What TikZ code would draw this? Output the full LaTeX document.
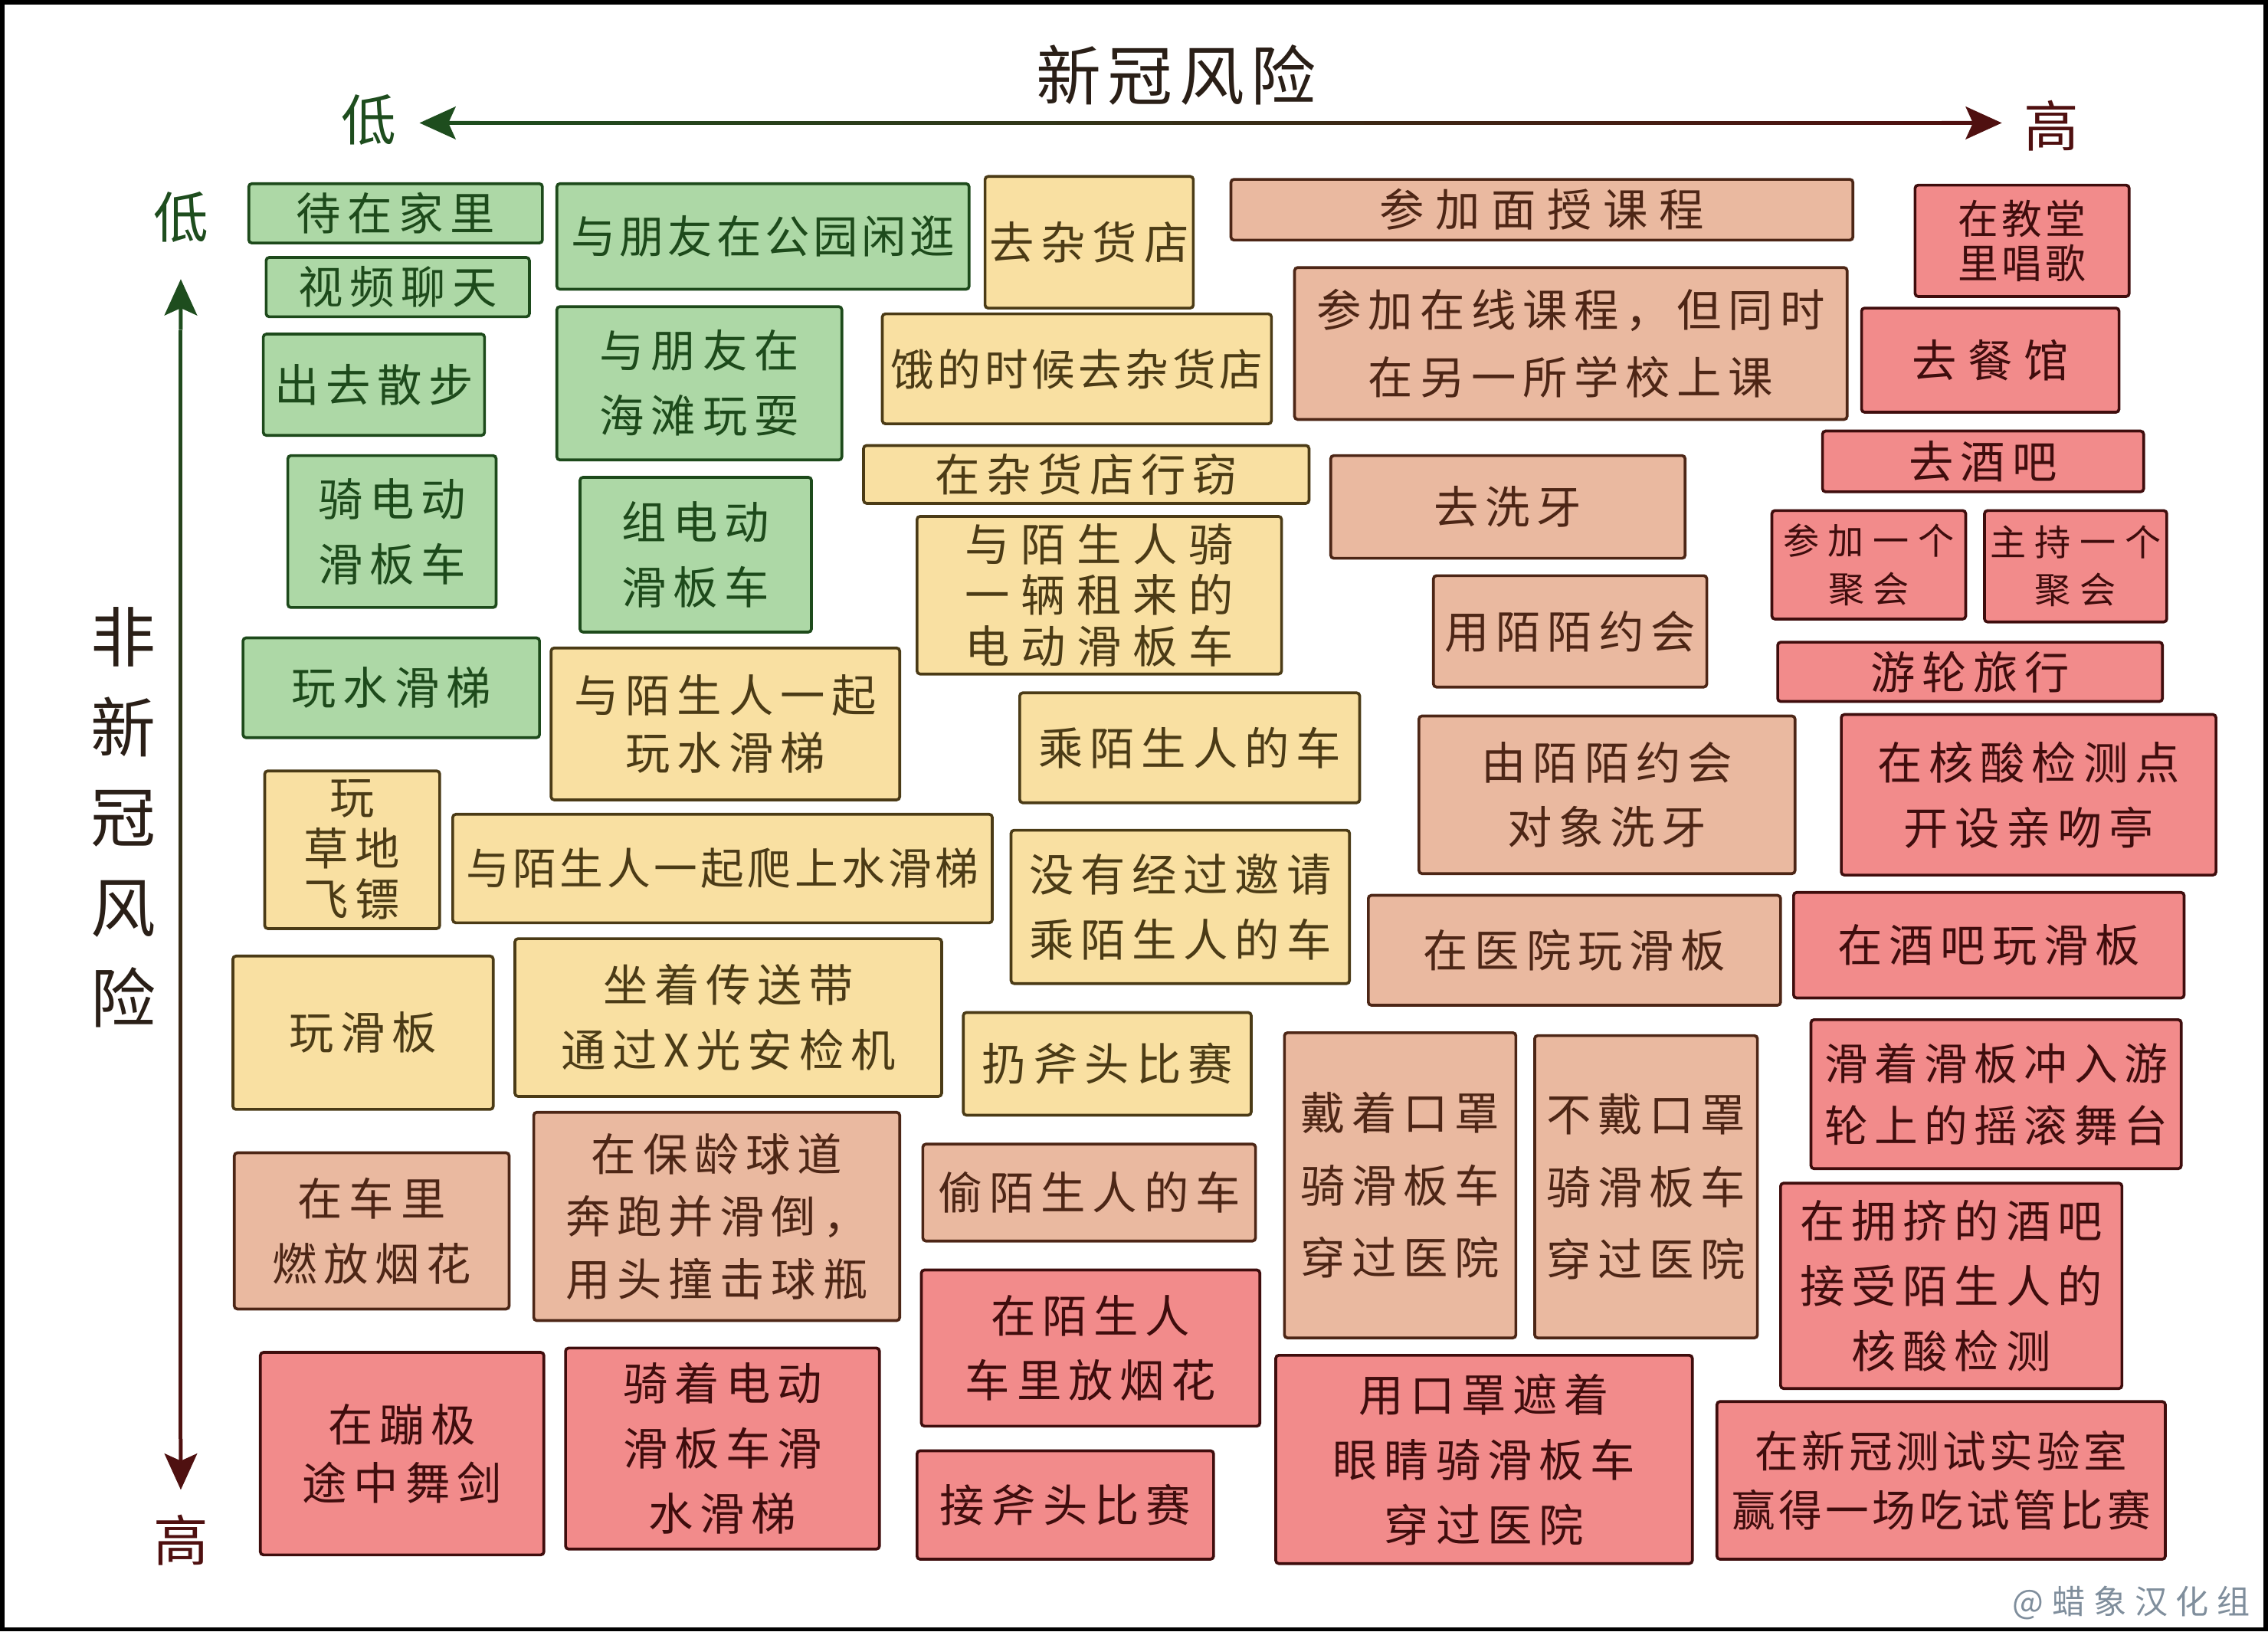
\documentclass[tikz,border=0pt]{standalone}
\usepackage{fontspec}
\setmainfont{Noto Sans CJK SC}
\newfontfamily\fA[LetterSpace=15]{Noto Sans CJK SC}
\newfontfamily\fB[LetterSpace=8]{Noto Sans CJK SC}
\newfontfamily\fC[LetterSpace=25]{Noto Sans CJK SC}
\newfontfamily\fT[LetterSpace=10]{Noto Sans CJK SC}
\usetikzlibrary{fit,calc,arrows.meta}
\definecolor{gfill}{HTML}{ADD8A6}
\definecolor{gline}{HTML}{1D4A1B}
\definecolor{yfill}{HTML}{F9E0A2}
\definecolor{yline}{HTML}{4B3B16}
\definecolor{sfill}{HTML}{EAB9A0}
\definecolor{sline}{HTML}{4D2616}
\definecolor{rfill}{HTML}{F28B8B}
\definecolor{rline}{HTML}{3F0D0D}
\definecolor{axgreen}{HTML}{1E4D1E}
\definecolor{axred}{HTML}{4F1010}
\definecolor{ink}{HTML}{2A1F17}
\definecolor{wmark}{HTML}{7F8E9C}
\newcommand\qbox[8]{\node[#6box, fit={(#2,#3) (#4,#5)}] (#1) {};
  \node[#6txt, #7] (#1t) at (#1.center) {#8};}
\tikzset{
  basebox/.style={draw, line width=1.1pt, rounded corners=1.2pt, inner sep=0pt},
  basetxt/.style={inner sep=0pt, align=center, font=\fA\fontsize{17.6pt}{25.6pt}\selectfont},
  gbox/.style={basebox, fill=gfill, draw=gline},
  ybox/.style={basebox, fill=yfill, draw=yline},
  sbox/.style={basebox, fill=sfill, draw=sline},
  rbox/.style={basebox, fill=rfill, draw=rline},
  gtxt/.style={basetxt, text=gline},
  ytxt/.style={basetxt, text=yline},
  stxt/.style={basetxt, text=sline},
  rtxt/.style={basetxt, text=rline},
  axlab/.style={font=\fontsize{21.6pt}{22pt}\selectfont, inner sep=0pt},
  tip/.style={line width=1.5pt, -{Stealth[length=0.5cm,width=0.45cm,inset=0.1cm]}},
}
\begin{document}
\begin{tikzpicture}[x=0.02cm,y=-0.02cm]
\useasboundingbox (0,0) rectangle (1568,1128);
\fill[white] (0,0) rectangle (1568,1128);
\draw[line width=1.7pt] (1.5,1.5) rectangle (1566.5,1126.5);

% title and axis labels
\node[font=\fT\fontsize{25.6pt}{26pt}\selectfont, text=ink] (title) at (813,52) {新冠风险};
\node[axlab, text=axgreen] (lowx) at (255,83) {低};
\node[axlab, text=axred] (highx) at (1418,87) {高};
\node[axlab, text=axgreen] (lowy) at (125,150) {低};
\node[axlab, text=axred] (highy) at (125,1065) {高};
\node[font=\fontsize{25.6pt}{35.5pt}\selectfont, text=ink, align=center] (ylab) at (85,565) {非\\新\\冠\\风\\险};
\node[font=\fC\fontsize{13pt}{14pt}\selectfont, text=wmark, anchor=east] (wm) at (1562,1108) {@蜡象汉化组};

% axes
\coordinate (ha) at (290,85); \coordinate (hb) at (1384,85);
\coordinate (ha2) at (305,85); \coordinate (hb2) at (1369,85);
\coordinate (va) at (125,193); \coordinate (vb) at (125,1030);
\coordinate (va2) at (125,208); \coordinate (vb2) at (125,1015);
\foreach \i in {0,...,39}{
  \pgfmathtruncatemacro\p{round(100*\i/39)}
  \draw[line width=1.5pt, draw=axred!\p!axgreen] ($(ha2)!{\i/40}!(hb2)$) -- ($(ha2)!{(\i+1)/40}!(hb2)$);
  \draw[line width=1.5pt, draw=axred!\p!axgreen] ($(va2)!{\i/40}!(vb2)$) -- ($(va2)!{(\i+1)/40}!(vb2)$);
}
\draw[tip, axgreen] (ha2) -- (ha);
\draw[tip, axred] (hb2) -- (hb);
\draw[tip, axgreen] (va2) -- (va);
\draw[tip, axred] (vb2) -- (vb);

% green
\qbox{b1}{172}{127}{375}{168}{g}{}{待在家里}
\qbox{b2}{184}{178}{366}{219}{g}{}{视频聊天}
\qbox{b3}{182}{231}{335}{301}{g}{}{出去散步}
\qbox{b4}{199}{315}{343}{420}{g}{}{骑电动\\滑板车}
\qbox{b5}{168}{441}{373}{510}{g}{}{玩水滑梯}
\qbox{b6}{385}{127}{670}{200}{g}{font=\fB\fontsize{17.6pt}{25pt}\selectfont}{与朋友在公园闲逛}
\qbox{b7}{385}{212}{582}{318}{g}{}{与朋友在\\海滩玩耍}
\qbox{b8}{401}{330}{561}{437}{g}{}{组电动\\滑板车}
% yellow
\qbox{b9}{681}{122}{825}{213}{y}{}{去杂货店}
\qbox{b10}{610}{217}{879}{293}{y}{font=\fB\fontsize{17.1pt}{25pt}\selectfont}{饿的时候去杂货店}
\qbox{b11}{597}{308}{905}{348}{y}{}{在杂货店行窃}
\qbox{b12}{634}{357}{886}{466}{y}{font=\fC\fontsize{17.6pt}{20pt}\selectfont}{与陌生人骑\\一辆租来的\\电动滑板车}
\qbox{b13}{381}{448}{622}{553}{y}{font=\fA\fontsize{17.6pt}{22.8pt}\selectfont}{与陌生人一起\\玩水滑梯}
\qbox{b14}{705}{479}{940}{555}{y}{}{乘陌生人的车}
\qbox{b15}{183}{533}{304}{642}{y}{font=\fA\fontsize{17.6pt}{20pt}\selectfont}{玩\\草地\\飞镖}
\qbox{b16}{313}{563}{686}{638}{y}{font=\fB\fontsize{17.1pt}{25pt}\selectfont}{与陌生人一起爬上水滑梯}
\qbox{b17}{699}{574}{933}{680}{y}{}{没有经过邀请\\乘陌生人的车}
\qbox{b18}{161}{661}{341}{767}{y}{}{玩滑板}
\qbox{b19}{356}{649}{651}{758}{y}{}{坐着传送带\\通过X光安检机}
\qbox{b20}{666}{700}{865}{771}{y}{}{扔斧头比赛}
% salmon
\qbox{b21}{851}{124}{1281}{166}{s}{font=\fC\fontsize{17.6pt}{25pt}\selectfont}{参加面授课程}
\qbox{b22}{895}{185}{1277}{290}{s}{font=\fA\fontsize{17.6pt}{26.7pt}\selectfont}{参加在线课程，但同时\\在另一所学校上课}
\qbox{b23}{920}{315}{1165}{386}{s}{}{去洗牙}
\qbox{b24}{991}{398}{1180}{475}{s}{}{用陌陌约会}
\qbox{b25}{981}{495}{1241}{604}{s}{}{由陌陌约会\\对象洗牙}
\qbox{b26}{946}{619}{1231}{695}{s}{}{在医院玩滑板}
\qbox{b27}{162}{797}{352}{905}{s}{}{在车里\\燃放烟花}
\qbox{b28}{369}{769}{622}{913}{s}{font=\fA\fontsize{17.6pt}{24.5pt}\selectfont}{在保龄球道\\奔跑并滑倒，\\用头撞击球瓶}
\qbox{b29}{638}{791}{868}{858}{s}{}{偷陌生人的车}
\qbox{b30}{888}{714}{1048}{925}{s}{font=\fA\fontsize{17.6pt}{28.5pt}\selectfont}{戴着口罩\\骑滑板车\\穿过医院}
\qbox{b31}{1061}{716}{1215}{925}{s}{font=\fA\fontsize{17.6pt}{28.5pt}\selectfont}{不戴口罩\\骑滑板车\\穿过医院}
% red
\qbox{b32}{1324}{128}{1472}{205}{r}{font=\fB\fontsize{15.9pt}{17.6pt}\selectfont}{在教堂\\里唱歌}
\qbox{b33}{1287}{213}{1465}{285}{r}{font=\fC\fontsize{17.6pt}{25pt}\selectfont}{去餐馆}
\qbox{b34}{1260}{298}{1482}{340}{r}{}{去酒吧}
\qbox{b35}{1225}{353}{1359}{428}{r}{font=\fC\fontsize{14.2pt}{18.8pt}\selectfont}{参加一个\\聚会}
\qbox{b36}{1372}{353}{1498}{430}{r}{font=\fC\fontsize{14.2pt}{18.8pt}\selectfont}{主持一个\\聚会}
\qbox{b37}{1229}{444}{1495}{485}{r}{}{游轮旅行}
\qbox{b38}{1273}{494}{1532}{605}{r}{}{在核酸检测点\\开设亲吻亭}
\qbox{b39}{1240}{617}{1510}{690}{r}{}{在酒吧玩滑板}
\qbox{b40}{1252}{705}{1508}{808}{r}{font=\fA\fontsize{17.1pt}{24.5pt}\selectfont}{滑着滑板冲入游\\轮上的摇滚舞台}
\qbox{b41}{1231}{818}{1467}{960}{r}{}{在拥挤的酒吧\\接受陌生人的\\核酸检测}
\qbox{b42}{1187}{969}{1497}{1078}{r}{font=\fB\fontsize{17.1pt}{23.3pt}\selectfont}{在新冠测试实验室\\赢得一场吃试管比赛}
\qbox{b43}{637}{878}{871}{986}{r}{}{在陌生人\\车里放烟花}
\qbox{b44}{634}{1003}{839}{1078}{r}{}{接斧头比赛}
\qbox{b45}{882}{937}{1170}{1081}{r}{}{用口罩遮着\\眼睛骑滑板车\\穿过医院}
\qbox{b46}{180}{935}{376}{1075}{r}{font=\fA\fontsize{17.6pt}{22.8pt}\selectfont}{在蹦极\\途中舞剑}
\qbox{b47}{391}{932}{608}{1071}{r}{}{骑着电动\\滑板车滑\\水滑梯}
\end{tikzpicture}
\end{document}
